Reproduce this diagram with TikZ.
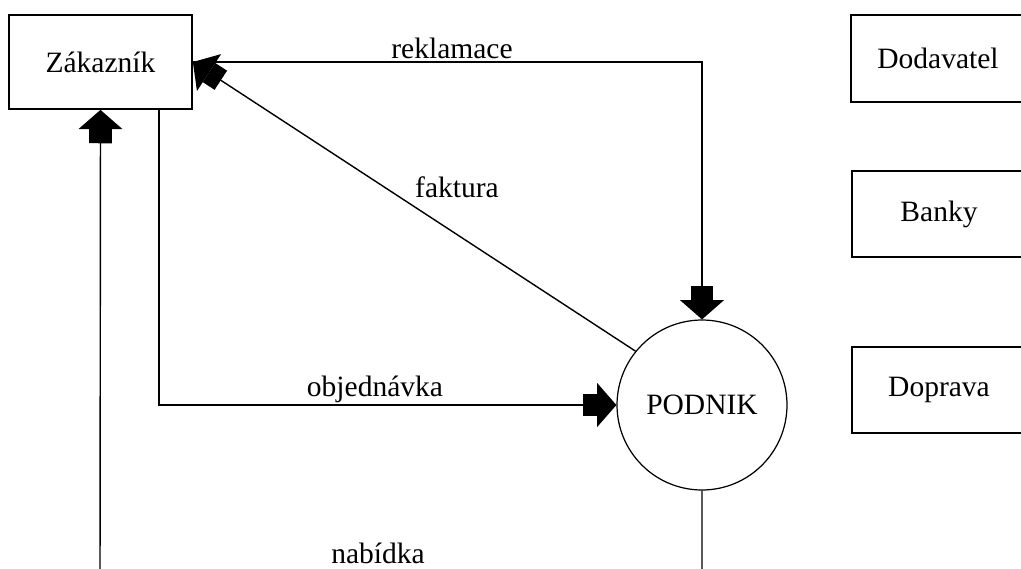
\documentclass[tikz,border=0pt]{standalone}
\usepackage{fontspec}
\setmainfont{Liberation Serif}
\usetikzlibrary{arrows.meta}

\begin{document}
\begin{tikzpicture}[x=0.02cm, y=-0.02cm, font=\fontsize{16.8}{20}\selectfont,
		entita/.style={draw, line width=1pt, inner sep=0pt},
		sipka/.style={line width=0.8pt, -{Rectangle[width=13pt, length=8pt, sep=0pt]Triangle[width=25pt, length=11pt]}}]
		\useasboundingbox (0, 0) rectangle (1021, 568);
		\clip (0, 0) rectangle (1021, 568);

		\node[entita, minimum width=3.66cm, minimum height=1.88cm] (zakaznik) at (100.5, 62) {Zákazník};
		\node[entita, minimum width=3.48cm, minimum height=1.74cm] (dodavatel) at (938, 58.5) {Dodavatel};
		\node[entita, minimum width=3.48cm, minimum height=1.72cm] (banky) at (939, 214) {Banky};
		\node[entita, minimum width=3.48cm, minimum height=1.72cm] (doprava) at (939, 390) {Doprava};
		\node[draw, circle, line width=0.7pt, minimum size=3.4cm] (podnik) at (702, 405) {PODNIK};

		\coordinate (O) at (159, 109);
		\coordinate (N1) at (702, 590);
		\coordinate (N2) at (100, 590);

		\draw[sipka] (zakaznik.east) -| (podnik.north);
		\draw[sipka] (podnik.141) -- (zakaznik.east);
		\draw[sipka] (O) |- (podnik.west);
		\draw[sipka] (podnik.south) -- (N1) -- (N2) -- (zakaznik.south);

		% popisky toku
		\node (reklamace) at (452, 48) {reklamace};
		\node (faktura) at (457, 187) {faktura};
		\node (objednavka) at (375, 389) {objednávka};
		\node (nabidka) at (378, 553) {nabídka};
	\end{tikzpicture}
\end{document}
